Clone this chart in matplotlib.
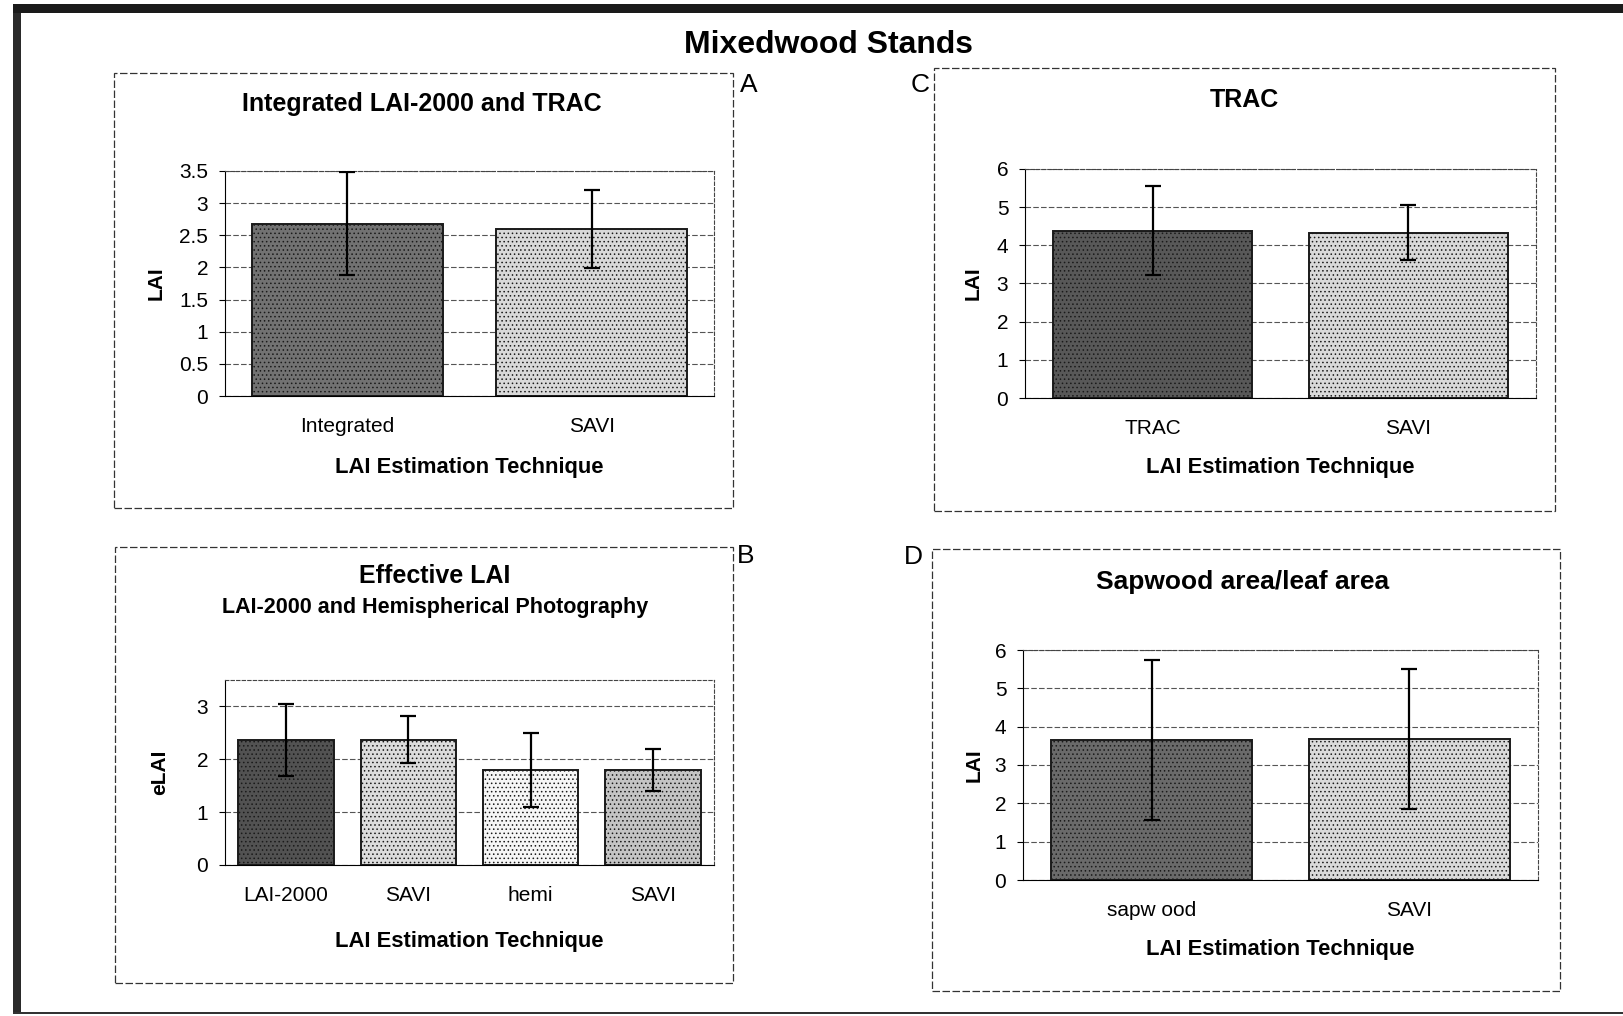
import matplotlib.pyplot as plt
from matplotlib.patches import Rectangle
import numpy as np

plt.rcParams['font.family'] = ['Liberation Sans', 'DejaVu Sans']

W, H = 1624, 1016

# --- panel data ---
a_labels = ["Integrated", "SAVI"]
a_lai = [2.68, 2.60]
a_err = [0.80, 0.61]

c_labels = ["TRAC", "SAVI"]
c_lai = [4.38, 4.33]
c_err = [1.17, 0.72]

b_labels = ["LAI-2000", "SAVI", "hemi", "SAVI"]
b_elai = [2.37, 2.37, 1.80, 1.80]
b_err = [0.68, 0.44, 0.70, 0.40]

d_labels = ["sapw ood", "SAVI"]
d_lai = [3.65, 3.68]
d_err = [2.08, 1.83]

fig = plt.figure(figsize=(W / 100, H / 100), dpi=100)


def px_axes(x0, y0, x1, y1, **kw):
    # axes placed by pixel box (top-left origin)
    return fig.add_axes([x0 / W, 1 - y1 / H, (x1 - x0) / W, (y1 - y0) / H], **kw)


def px_rect(x0, y0, x1, y1, **kw):
    r = Rectangle((x0 / W, 1 - y1 / H), (x1 - x0) / W, (y1 - y0) / H,
                  transform=fig.transFigure, fill=False, **kw)
    fig.add_artist(r)


# outer border
fig.add_artist(Rectangle((13 / W, 1 - 13 / H), (W - 13) / W, 9 / H,
                         transform=fig.transFigure, color='#1a1a1a', lw=0))
fig.add_artist(Rectangle((13 / W, 1 - 1013 / H), 8 / W, 1000 / H,
                         transform=fig.transFigure, color='#2a2a2a', lw=0))
fig.add_artist(Rectangle((13 / W, 1 - 1014 / H), (W - 13) / W, 2 / H,
                         transform=fig.transFigure, color='#333333', lw=0))

fig.text(829 / W, 1 - 45 / H, "Mixedwood Stands", ha='center', va='center',
         fontsize=23, fontweight='bold')

# panel frames
px_rect(114, 73, 733, 508, lw=0.9, ls=(0, (6, 2)), ec='#333333')
px_rect(934, 68, 1555, 511, lw=0.9, ls=(0, (6, 2)), ec='#333333')
px_rect(115, 547, 733, 983, lw=0.9, ls=(0, (6, 2)), ec='#333333')
px_rect(932, 549, 1560, 991, lw=0.9, ls=(0, (6, 2)), ec='#333333')

for lab, x, y in [("A", 749, 85), ("C", 920, 85), ("B", 746, 556), ("D", 913, 557)]:
    fig.text(x / W, 1 - y / H, lab, ha='center', va='center', fontsize=19)


def bar_panel(ax, labels, vals, errs, colors, ymax, ticks, ylabel, ticklbl,
              ylpad=14, xlpad=15):
    x = np.arange(len(labels))
    ax.set_xlim(-0.5, len(labels) - 0.5)
    ax.set_ylim(0, ymax)
    ax.set_yticks(ticks)
    ax.set_yticklabels(ticklbl, fontsize=15)
    for t in ticks:
        ax.axhline(t, color='#555555', lw=0.8, ls=(0, (5, 2)), zorder=0)
    ax.bar(x, vals, width=0.78, color=colors, edgecolor='#1a1a1a', lw=1.4,
           hatch='....', zorder=2)
    ax.errorbar(x, vals, yerr=errs, fmt='none', ecolor='black', elinewidth=1.6,
                capsize=6, capthick=1.6, zorder=3)
    ax.set_xticks(x)
    ax.set_xticklabels(labels, fontsize=15)
    ax.tick_params(axis='x', length=0, pad=15)
    ax.tick_params(axis='y', length=4, pad=8)
    for s in ax.spines.values():
        s.set_linestyle((0, (3, 2)))
        s.set_linewidth(0.8)
        s.set_color('#444444')
    ax.spines['left'].set_linestyle('-')
    ax.spines['left'].set_color('black')
    ax.spines['bottom'].set_linestyle('-')
    ax.spines['bottom'].set_color('black')
    ax.set_ylabel(ylabel, fontsize=15, fontweight='bold', labelpad=ylpad)
    ax.set_xlabel("LAI Estimation Technique", fontsize=15.8, fontweight='bold',
                  labelpad=xlpad)


plt.rcParams['hatch.color'] = '#8a8a8a'
plt.rcParams['hatch.linewidth'] = 0.6

# A
axA = px_axes(225, 171, 714, 396)
bar_panel(axA, a_labels, a_lai, a_err, ['#727272', '#d9d9d9'], 3.5,
          [0, 0.5, 1, 1.5, 2, 2.5, 3, 3.5], "LAI",
          ["0", "0.5", "1", "1.5", "2", "2.5", "3", "3.5"], ylpad=10)
fig.text(422 / W, 1 - 104 / H, "Integrated LAI-2000 and TRAC", ha='center',
         va='center', fontsize=18, fontweight='bold')

# C
axC = px_axes(1025, 169, 1536, 398)
bar_panel(axC, c_labels, c_lai, c_err, ['#585858', '#d9d9d9'], 6,
          [0, 1, 2, 3, 4, 5, 6], "LAI", ["0", "1", "2", "3", "4", "5", "6"],
          ylpad=10, xlpad=14)
fig.text(1244 / W, 1 - 100 / H, "TRAC", ha='center', va='center',
         fontsize=18, fontweight='bold')

# B
axB = px_axes(225, 680, 714, 865)
bar_panel(axB, b_labels, b_elai, b_err,
          ['#525252', '#dcdcdc', '#f6f6f6', '#c4c4c4'], 3.5,
          [0, 1, 2, 3], "eLAI", ["0", "1", "2", "3"], ylpad=20, xlpad=19)
fig.text(435 / W, 1 - 576 / H, "Effective LAI", ha='center', va='center',
         fontsize=18, fontweight='bold')
fig.text(435 / W, 1 - 607 / H, "LAI-2000 and Hemispherical Photography",
         ha='center', va='center', fontsize=15.5, fontweight='bold')

# D
axD = px_axes(1023, 650, 1538, 880)
bar_panel(axD, d_labels, d_lai, d_err, ['#6a6a6a', '#dadada'], 6,
          [0, 1, 2, 3, 4, 5, 6], "LAI", ["0", "1", "2", "3", "4", "5", "6"],
          ylpad=8, xlpad=14)
fig.text(1243 / W, 1 - 582 / H, "Sapwood area/leaf area", ha='center',
         va='center', fontsize=19, fontweight='bold')

fig.savefig("out.png", dpi=100)
